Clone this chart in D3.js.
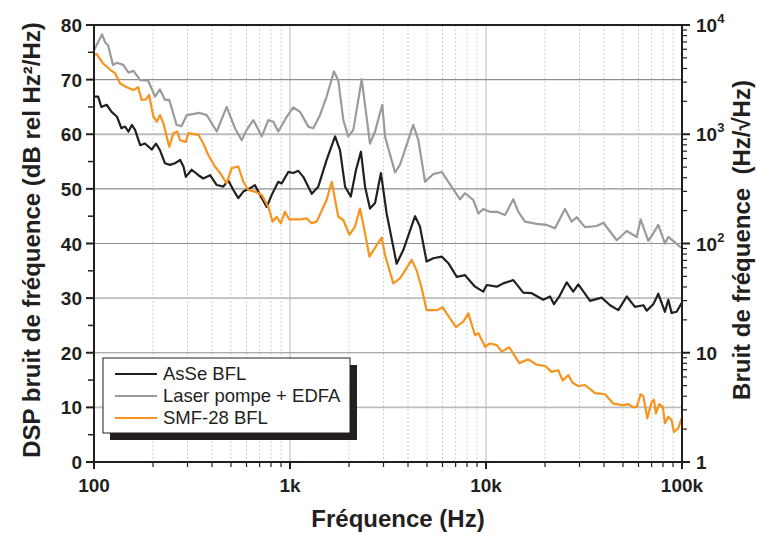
<!DOCTYPE html>
<html>
<head>
<meta charset="utf-8">
<script src="https://cdn.jsdelivr.net/npm/d3@7"></script>
<style>
body { margin: 0; background: #fff; }
svg text { font-family: "Liberation Sans", Arial, sans-serif; }
.tick-lbl { font-size: 19px; font-weight: bold; fill: #231f20; }
.title { font-size: 24px; font-weight: bold; fill: #231f20; }
.leg { font-size: 18.5px; fill: #231f20; }
</style>
</head>
<body>
<svg id="chart" width="757" height="535"></svg>
<script>
// series (freq in Hz, DSP in dB rel Hz²/Hz)
var pumpFreq = [100,110,114,118,125,131,141,150,159,172,189,205,217,230,242,264,280,297,347,376,423,475,524,567,601,650,718,775,822,871,962,1039,1125,1240,1315,1422,1538,1676,1763,1871,1983,2104,2322,2559,2716,2957,3053,3436,3640,4256,4519,4887,5383,5943,6427,7362,7816,8610,9141,9683,10470,11350,12500,13780,14620,15810,18140,20420,22490,25290,27350,29010,31990,36730,39720,46450,52240,58750,61520,67300,71450,75680,81850,85110,92040,97720,100000];
var pumpDb = [75.4,78.3,76.8,76.3,72.7,73.1,72.7,71.3,71.6,69.9,69.8,66.9,68.2,66.3,66.3,61.7,61.5,63.5,63.9,63.5,60.5,65.0,61.1,58.9,60.8,62.6,59.6,62.6,62.3,60.5,63.2,64.9,64.1,61.4,61.1,63.5,66.9,71.5,69.9,62.6,59.6,60.8,70.1,58.3,60.5,65.4,59.6,53.0,54.4,61.7,58.9,51.3,52.7,53.1,51.3,48.1,49.2,48.0,45.5,46.3,45.8,45.8,45.2,48.1,45.8,44.0,43.6,43.4,42.8,46.3,44.0,44.8,43.0,43.2,43.8,40.6,42.3,41.2,44.4,40.5,41.9,43.4,40.0,41.2,40.2,39.4,39.3];

var asseFreq = [100,105,109,116,123,131,138,144,150,156,162,172,182,197,207,217,230,244,259,275,286,294,315,341,361,391,423,457,484,514,545,578,625,662,703,761,807,871,907,980,1039,1102,1169,1291,1394,1538,1698,1799,1910,2042,2173,2301,2415,2559,2716,2911,3112,3500,3784,4345,4603,4977,5383,5943,6427,7096,7816,8790,9683,10090,11350,12250,13780,15490,17100,19600,21230,22230,23660,25820,27860,29580,33960,38900,42950,47320,52240,57540,63530,66070,71450,75680,81850,85110,88510,93970,99540];
var asseDb = [66.9,66.9,65.0,65.4,64.1,63.2,61.1,61.4,60.5,61.7,60.8,58.0,58.3,57.2,58.3,57.1,54.7,54.4,54.7,55.3,54.1,52.2,53.5,52.5,51.9,52.5,50.7,50.4,51.6,49.8,48.3,49.5,50.1,50.7,48.9,46.7,48.9,51.3,51.0,53.1,52.9,53.3,52.2,49.1,50.4,55.3,59.6,57.1,50.4,48.6,53.5,56.8,50.4,46.4,47.4,52.9,45.5,36.3,38.8,45.0,43.1,36.7,37.3,37.6,36.4,33.9,34.2,32.1,31.2,32.4,32.1,32.7,33.3,31.0,30.9,29.7,30.3,28.9,30.3,32.9,31.2,32.5,29.5,30.1,28.7,27.8,30.3,28.4,28.7,27.7,28.9,30.8,27.5,29.7,27.3,27.5,29.1];

var smfFreq = [100,103,111,121,128,136,147,159,168,175,184,191,201,209,217,226,242,254,266,275,294,303,341,361,383,414,440,475,504,545,578,613,662,718,775,816,855,897,942,991,1125,1216,1291,1368,1538,1633,1763,1871,2009,2147,2275,2415,2541,2769,2937,3053,3365,3640,3936,4178,4426,4699,4977,5598,6012,6546,7031,7656,8128,8790,9141,9886,10470,11350,12020,13150,14790,16440,18140,20000,21630,23390,24610,26300,27670,29580,31990,35970,40460,44570,50230,53210,56490,58750,61520,63530,66530,69980,71940,73620,76560,79800,81850,85110,88510,90990,95720,99540];
var smfDb = [74.5,74.7,73.0,71.8,71.2,69.3,68.6,68.1,68.6,66.3,66.4,67.2,63.2,62.3,63.5,62.0,57.7,60.2,60.5,58.9,58.6,60.2,59.9,58.3,56.2,54.1,52.9,51.0,53.8,54.1,51.3,49.8,49.5,48.9,46.7,44.0,44.9,43.7,45.8,44.4,44.4,44.6,43.7,44.0,48.0,51.3,44.9,44.3,41.6,43.1,46.4,41.9,37.6,39.7,41.1,37.9,32.7,33.6,35.5,37.0,35.1,31.8,27.8,27.8,28.3,26.3,24.7,25.7,27.2,23.2,23.6,21.1,21.7,21.4,20.2,21.0,18.1,18.8,17.8,17.6,16.5,16.8,14.9,15.9,14.5,13.9,14.1,12.6,12.4,10.7,10.4,10.6,10.0,10.1,12.4,12.0,8.0,11.0,11.4,8.9,10.6,10.1,7.1,8.3,7.7,5.5,6.2,8.0];

var seriesNames = ["AsSe BFL", "Laser pompe + EDFA", "SMF-28 BFL"];
var seriesColors = ["#231f20", "#9b9b9b", "#f7941d"];

var xTickVals = [100, 1000, 10000, 100000];
var xTickLabels = ["100", "1k", "10k", "100k"];
var yTickVals = [0, 10, 20, 30, 40, 50, 60, 70, 80];
var rTickVals = [1, 10, 100, 1000, 10000];

var svg = d3.select("#chart");
var margin = {left: 94, right: 682, top: 25, bottom: 462};

var x = d3.scaleLog().domain([100, 100000]).range([margin.left, margin.right]);
var y = d3.scaleLinear().domain([0, 80]).range([margin.bottom, margin.top]);
var yr = d3.scaleLog().domain([1, 10000]).range([margin.bottom, margin.top]);

// vertical grid
var minorX = [];
[100, 1000, 10000].forEach(function (dec) {
  for (var k = 2; k <= 9; k++) minorX.push(dec * k);
});
svg.append("g").selectAll("line")
  .data(minorX)
  .enter().append("line")
  .attr("x1", function (d) { return x(d); })
  .attr("x2", function (d) { return x(d); })
  .attr("y1", margin.top).attr("y2", margin.bottom)
  .attr("stroke", "#cfcfcf")
  .attr("stroke-width", 1)
  .attr("stroke-dasharray", "2,2");
svg.append("g").selectAll("line")
  .data([1000, 10000])
  .enter().append("line")
  .attr("x1", function (d) { return x(d); })
  .attr("x2", function (d) { return x(d); })
  .attr("y1", margin.top).attr("y2", margin.bottom)
  .attr("stroke", "#d0d0d0")
  .attr("stroke-width", 1.5);

// horizontal grid
var gridDark = {70: 1, 50: 1, 40: 1, 20: 1};
svg.append("g").selectAll("line")
  .data(yTickVals.filter(function (d) { return d > 0 && d < 80; }))
  .enter().append("line")
  .attr("x1", margin.left).attr("x2", margin.right)
  .attr("y1", function (d) { return y(d); })
  .attr("y2", function (d) { return y(d); })
  .attr("stroke", function (d) { return gridDark[d] ? "#8e8e8e" : "#bdbdbd"; })
  .attr("stroke-width", function (d) { return gridDark[d] ? 1.2 : 1.8; });

// curves
var line = d3.line()
  .x(function (d) { return x(d[0]); })
  .y(function (d) { return y(d[1]); });

var series = [
  d3.zip(pumpFreq, pumpDb),
  d3.zip(asseFreq, asseDb),
  d3.zip(smfFreq, smfDb)
];
var drawColors = [seriesColors[1], seriesColors[0], seriesColors[2]];
svg.append("g").selectAll("path")
  .data(series)
  .enter().append("path")
  .attr("d", line)
  .attr("fill", "none")
  .attr("stroke", function (d, i) { return drawColors[i]; })
  .attr("stroke-width", 2.2)
  .attr("stroke-linejoin", "round");

// frame
svg.append("rect")
  .attr("x", margin.left).attr("y", margin.top)
  .attr("width", margin.right - margin.left)
  .attr("height", margin.bottom - margin.top)
  .attr("fill", "none")
  .attr("stroke", "#231f20")
  .attr("stroke-width", 2);

// bottom axis
var bx = svg.append("g");
bx.selectAll(".maj").data(xTickVals).enter().append("line")
  .attr("x1", function (d) { return x(d); }).attr("x2", function (d) { return x(d); })
  .attr("y1", margin.bottom).attr("y2", margin.bottom + 7)
  .attr("stroke", "#231f20").attr("stroke-width", 2);
bx.selectAll(".min").data(minorX).enter().append("line")
  .attr("x1", function (d) { return x(d); }).attr("x2", function (d) { return x(d); })
  .attr("y1", margin.bottom).attr("y2", margin.bottom + 5)
  .attr("stroke", "#231f20").attr("stroke-width", 1.2);
bx.selectAll("text").data(xTickVals).enter().append("text")
  .attr("class", "tick-lbl")
  .attr("x", function (d) { return x(d); })
  .attr("y", 492)
  .attr("text-anchor", "middle")
  .text(function (d, i) { return xTickLabels[i]; });

// left axis
var ly = svg.append("g");
ly.selectAll(".maj").data(yTickVals).enter().append("line")
  .attr("x1", margin.left - 8).attr("x2", margin.left)
  .attr("y1", function (d) { return y(d); }).attr("y2", function (d) { return y(d); })
  .attr("stroke", "#231f20").attr("stroke-width", 2);
ly.selectAll(".min").data(d3.range(5, 80, 10)).enter().append("line")
  .attr("x1", margin.left - 6).attr("x2", margin.left)
  .attr("y1", function (d) { return y(d); }).attr("y2", function (d) { return y(d); })
  .attr("stroke", "#231f20").attr("stroke-width", 1.5);
ly.selectAll("text").data(yTickVals).enter().append("text")
  .attr("class", "tick-lbl")
  .attr("x", margin.left - 12)
  .attr("y", function (d) { return y(d) + 7; })
  .attr("text-anchor", "end")
  .text(function (d) { return d; });

// right axis
var ry = svg.append("g");
var rMinor = [];
[1, 10, 100, 1000].forEach(function (dec) {
  for (var k = 2; k <= 9; k++) rMinor.push(dec * k);
});
ry.selectAll(".maj").data(rTickVals).enter().append("line")
  .attr("x1", margin.right).attr("x2", margin.right + 8)
  .attr("y1", function (d) { return yr(d); }).attr("y2", function (d) { return yr(d); })
  .attr("stroke", "#231f20").attr("stroke-width", 2);
ry.selectAll(".min").data(rMinor).enter().append("line")
  .attr("x1", margin.right).attr("x2", margin.right + 5)
  .attr("y1", function (d) { return yr(d); }).attr("y2", function (d) { return yr(d); })
  .attr("stroke", "#231f20").attr("stroke-width", 1.2);
var rl = ry.selectAll("text").data(rTickVals).enter().append("text")
  .attr("class", "tick-lbl")
  .attr("x", margin.right + 14)
  .attr("y", function (d) { return yr(d) + 7; });
rl.each(function (d) {
  var t = d3.select(this);
  var e = Math.round(Math.log10(d));
  if (e < 2) {
    t.text(d);
  } else {
    t.append("tspan").text("10");
    t.append("tspan").attr("dy", -9).style("font-size", "13px").text(e);
  }
});

// axis titles
svg.append("text")
  .attr("class", "title")
  .attr("x", 398).attr("y", 527)
  .attr("text-anchor", "middle")
  .text("Fréquence (Hz)");

svg.append("text")
  .attr("class", "title")
  .attr("transform", "translate(40,240) rotate(-90)")
  .attr("text-anchor", "middle")
  .text("DSP bruit de fréquence (dB rel Hz²/Hz)");

svg.append("text")
  .attr("class", "title")
  .attr("transform", "translate(750,240) rotate(-90)")
  .attr("text-anchor", "middle")
  .attr("xml:space", "preserve")
  .text("Bruit de fréquence  (Hz/√Hz)");

// legend
var lg = svg.append("g");
lg.append("rect")
  .attr("x", 110).attr("y", 365).attr("width", 247).attr("height", 75)
  .attr("fill", "#231f20");
lg.append("rect")
  .attr("x", 103).attr("y", 358).attr("width", 247).attr("height", 75)
  .attr("fill", "#fff").attr("stroke", "#231f20").attr("stroke-width", 1);
var rows = lg.selectAll(".row")
  .data(seriesNames)
  .enter().append("g")
  .attr("transform", function (d, i) { return "translate(0," + (374 + i * 22) + ")"; });
rows.append("line")
  .attr("x1", 115).attr("x2", 157)
  .attr("stroke", function (d, i) { return seriesColors[i]; })
  .attr("stroke-width", 2);
rows.append("text")
  .attr("class", "leg")
  .attr("x", 163).attr("y", 6)
  .text(function (d) { return d; });
</script>
</body>
</html>
